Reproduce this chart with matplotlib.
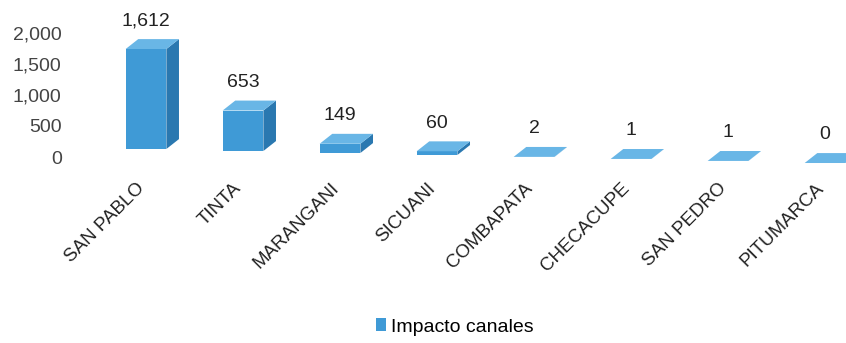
import matplotlib
matplotlib.use('Agg')
import matplotlib.pyplot as plt
from matplotlib.patches import Polygon, Patch
from matplotlib.transforms import ScaledTranslation

plt.rcParams['font.family'] = ['Liberation Sans Narrow', 'Liberation Sans', 'DejaVu Sans']

categories = ['SAN PABLO', 'TINTA', 'MARANGANI', 'SICUANI', 'COMBAPATA',
              'CHECACUPE', 'SAN PEDRO', 'PITUMARCA']
values = [1612, 653, 149, 60, 2, 1, 1, 0]
value_labels = ['1,612', '653', '149', '60', '2', '1', '1', '0']
yticks = [0, 500, 1000, 1500, 2000]
ytick_labels = ['0', '500', '1,000', '1,500', '2,000']

FRONT = '#3f9ad6'
SIDE = '#2a78b0'
TOP = '#69b6e6'

fig = plt.figure(figsize=(8.46, 3.43), dpi=100)
ax = fig.add_axes([70 / 846, 194 / 343, 776 / 846, 129 / 343])
ax.set_xlim(-0.7835, 7.216)
ax.set_ylim(0, 2080)

# fake 3d depth and perspective floor drop (data units)
w = 0.42
dx = 0.13
dy = 160
px = 500 / 31          # data units per pixel on y
drop = 2 * px          # floor falls ~2px per category going right

for i, v in enumerate(values):
    b = -i * drop
    x0, x1 = i - w / 2, i + w / 2
    front = Polygon([(x0, b), (x1, b), (x1, b + v), (x0, b + v)], closed=True,
                    facecolor=FRONT, edgecolor='none', clip_on=False)
    side = Polygon([(x1, b), (x1 + dx, b + dy), (x1 + dx, b + v + dy), (x1, b + v)], closed=True,
                   facecolor=SIDE, edgecolor='none', clip_on=False)
    top = Polygon([(x0, b + v), (x1, b + v), (x1 + dx, b + v + dy), (x0 + dx, b + v + dy)],
                  closed=True, facecolor=TOP, edgecolor='none', clip_on=False)
    for p in (front, side, top):
        ax.add_patch(p)
    ax.annotate(value_labels[i], xy=(i, b + v + dy), xytext=(0, 7), textcoords='offset points',
                ha='center', va='bottom', fontsize=14, color='#222222',
                annotation_clip=False)

for s in ax.spines.values():
    s.set_visible(False)

ax.set_yticks(yticks)
ax.set_yticklabels(ytick_labels, fontsize=14, color='#444444')
ax.tick_params(axis='y', length=0, pad=6)
for lab in ax.get_yticklabels():
    lab.set_transform(lab.get_transform() + ScaledTranslation(0, -8 / 100, fig.dpi_scale_trans))

ax.set_xticks(range(len(categories)))
ax.set_xticklabels(categories, rotation=45, ha='right', rotation_mode='anchor',
                   fontsize=13.5, color='#222222')
ax.tick_params(axis='x', length=0, pad=22)
for lab in ax.get_xticklabels():
    lab.set_transform(lab.get_transform() + ScaledTranslation(-10 / 100, 0, fig.dpi_scale_trans))

handle = Patch(facecolor=FRONT, edgecolor='none')
fig.legend([handle], ['Impacto canales'], loc='center', bbox_to_anchor=(455 / 846, 1 - 327 / 343),
           frameon=False, fontsize=14, handlelength=0.5, handleheight=0.6, handletextpad=0.3)

fig.savefig('out.png', dpi=100)
